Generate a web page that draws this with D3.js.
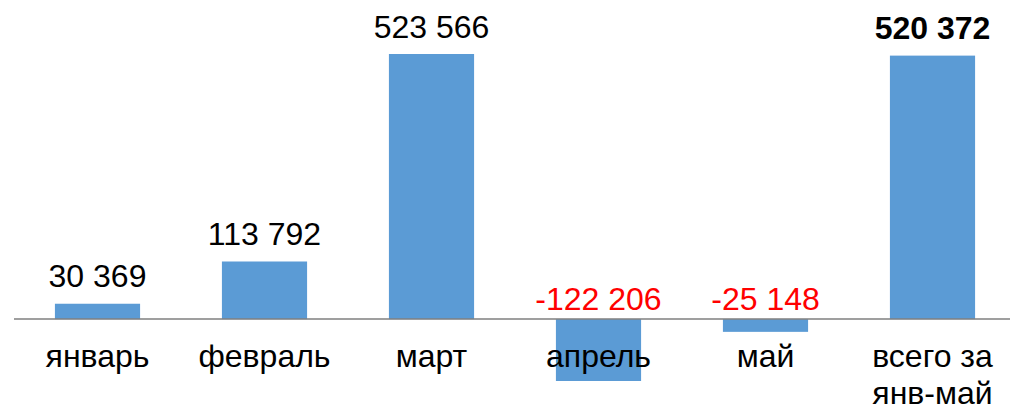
<!DOCTYPE html>
<html>
<head>
<meta charset="utf-8">
<script src="https://cdn.jsdelivr.net/npm/d3@7"></script>
<style>
  html, body { margin: 0; padding: 0; background: #fff; }
  svg { display: block; font-family: "Liberation Sans", Arial, sans-serif; }
</style>
</head>
<body>
<svg id="chart" width="1010" height="408"></svg>
<script>
// Monthly values and the January–May total
const categories = [["январь"], ["февраль"], ["март"], ["апрель"], ["май"], ["всего за", "янв-май"]];
const values = [30369, 113792, 523566, -122206, -25148, 520372];
const totalIndex = 5;

const W = 1010, H = 408;
const svg = d3.select("#chart");

const fmt = d3.formatLocale({
  decimal: ",", thousands: " ", grouping: [3], currency: ["", ""], minus: "-"
}).format(",d");

const x = d3.scaleBand()
  .domain(d3.range(values.length))
  .range([14, 1016])
  .paddingInner(0.49)
  .paddingOuter(0.245);

const y = d3.scaleLinear()
  .domain([d3.min(values), d3.max(values)])
  .range([381, 54]);

// bars
svg.append("g").selectAll("rect")
  .data(values)
  .join("rect")
  .attr("x", (d, i) => x(i))
  .attr("width", x.bandwidth())
  .attr("y", d => y(Math.max(0, d)))
  .attr("height", d => Math.abs(y(d) - y(0)))
  .attr("fill", "#5b9bd5");

// zero baseline
svg.append("line")
  .attr("x1", 14).attr("x2", W)
  .attr("y1", y(0)).attr("y2", y(0))
  .attr("stroke", "#7f7f7f")
  .attr("stroke-width", 1.5);

// value labels
svg.append("g").selectAll("text")
  .data(values)
  .join("text")
  .attr("x", (d, i) => x(i) + x.bandwidth() / 2)
  .attr("y", d => d >= 0 ? y(d) - 16.5 : y(0) - 9)
  .attr("text-anchor", "middle")
  .attr("font-size", 32)
  .attr("font-weight", (d, i) => i === totalIndex ? "bold" : "normal")
  .attr("fill", d => d < 0 ? "#ff0000" : "#000")
  .text(d => fmt(d));

// category labels
const cat = svg.append("g").selectAll("text")
  .data(categories)
  .join("text")
  .attr("text-anchor", "middle")
  .attr("font-size", 32)
  .attr("fill", "#000");
cat.selectAll("tspan")
  .data((d, i) => d.map((t, k) => ({ t, k, i })))
  .join("tspan")
  .attr("x", d => x(d.i) + x.bandwidth() / 2)
  .attr("y", d => 367 + d.k * 37)
  .text(d => d.t);
</script>
</body>
</html>
